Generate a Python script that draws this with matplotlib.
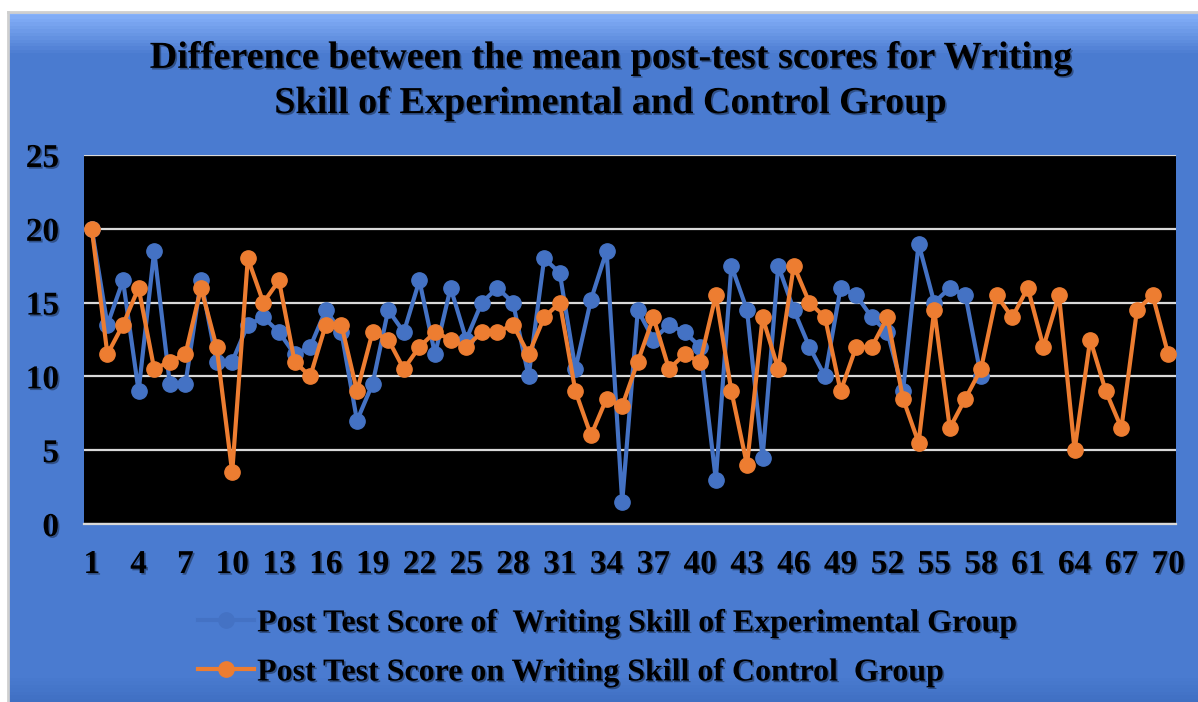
import numpy as np
import matplotlib
matplotlib.use("Agg")
import matplotlib.pyplot as plt
import matplotlib.patheffects as pe
from matplotlib.colors import to_rgb

# data
students = list(range(1, 71))
experimental = [20, 13.5, 16.5, 9, 18.5, 9.5, 9.5, 16.5, 11, 11,
                13.5, 14, 13, 11.5, 12, 14.5, 13, 7, 9.5, 14.5,
                13, 16.5, 11.5, 16, 12.5, 15, 16, 15, 10, 18,
                17, 10.5, 15.2, 18.5, 1.5, 14.5, 12.5, 13.5, 13, 12,
                3, 17.5, 14.5, 4.5, 17.5, 14.5, 12, 10, 16, 15.5,
                14, 13, 9, 19, 15, 16, 15.5, 10]
control = [20, 11.5, 13.5, 16, 10.5, 11, 11.5, 16, 12, 3.5,
           18, 15, 16.5, 11, 10, 13.5, 13.5, 9, 13, 12.5,
           10.5, 12, 13, 12.5, 12, 13, 13, 13.5, 11.5, 14,
           15, 9, 6, 8.5, 8, 11, 14, 10.5, 11.5, 11,
           15.5, 9, 4, 14, 10.5, 17.5, 15, 14, 9, 12,
           12, 14, 8.5, 5.5, 14.5, 6.5, 8.5, 10.5, 15.5, 14,
           16, 12, 15.5, 5, 12.5, 9, 6.5, 14.5, 15.5, 11.5]
xtick_labels = [str(i) for i in range(1, 71, 3)]
yticks = [0, 5, 10, 15, 20, 25]

title = ("Difference between the mean post-test scores for Writing\n"
         "Skill of Experimental and Control Group")
label_exp = "Post Test Score of  Writing Skill of Experimental Group"
label_ctl = "Post Test Score on Writing Skill of Control  Group"

BLUE = "#4472C4"
ORANGE = "#ED7D31"
BG = "#4A7BD0"

plt.rcParams['font.family'] = ['Liberation Serif', 'DejaVu Serif']
plt.rcParams['font.weight'] = 'bold'

W, H = 1198, 702
fig = plt.figure(figsize=(W / 100, H / 100), dpi=100)
fig.patch.set_facecolor("white")

# chart area background with a soft gradient like the original bevel
bg = fig.add_axes([8 / W, 0, 1 - 8 / W, 1 - 12 / H])
bg.set_axis_off()
rows = 200
grad = np.zeros((rows, 1, 3))
base = np.array(to_rgb(BG))
light = np.array(to_rgb("#86B1FA"))
dark = np.array(to_rgb("#3F6FC2"))
for r in range(rows):
    t = r / rows
    if t < 0.06:
        c = light + (base - light) * (t / 0.06)
    elif t > 0.96:
        c = base + (dark - base) * ((t - 0.96) / 0.04)
    else:
        c = base
    grad[r, 0] = c
bg.imshow(grad, aspect="auto", extent=[0, 1, 0, 1])
bg.set_xlim(0, 1)
bg.set_ylim(0, 1)
bg.plot([0, 1, 1], [1, 1, 1], color="#cfcfcf", lw=2, clip_on=False)
bg.plot([0, 0], [0, 1], color="#cfcfcf", lw=2, clip_on=False)

shadow = [pe.withSimplePatchShadow(offset=(1.2, -1.2), shadow_rgbFace="black", alpha=0.35)]

ax = fig.add_axes([84 / W, 1 - 524 / H, (1176 - 84) / W, (524 - 155) / H])
ax.set_facecolor("black")
ax.plot(students[:len(experimental)], experimental, color=BLUE, lw=3,
        marker="o", markersize=11, label=label_exp, zorder=3)
ax.plot(students, control, color=ORANGE, lw=3,
        marker="o", markersize=11, label=label_ctl, zorder=4)

ax.set_xlim(0.5, 70.5)
ax.set_ylim(0, 25)
ax.set_yticks(yticks)
ax.set_xticks(range(1, 71, 3))
ax.set_xticklabels(xtick_labels)
ax.grid(axis="y", color="#d9d9d9", lw=1.6, zorder=1)
ax.set_axisbelow(True)
for s in ["left", "right", "top"]:
    ax.spines[s].set_visible(False)
ax.spines["bottom"].set_color("#d9d9d9")
ax.spines["bottom"].set_linewidth(1.6)
ax.tick_params(length=0, labelsize=24, colors="black")
ax.tick_params(axis="y", pad=18)
ax.tick_params(axis="x", pad=18)
for lbl in ax.get_xticklabels() + ax.get_yticklabels():
    lbl.set_fontweight("bold")
    lbl.set_path_effects(shadow)

fig.text(611 / W, 1 - 81 / H, title, ha="center", va="center", fontsize=27.5,
         fontweight="bold", linespacing=1.38, path_effects=shadow)

leg = fig.legend(loc="upper left", bbox_to_anchor=(198 / W, 1 - 609 / H),
                 frameon=False, fontsize=23, handlelength=1.75, handletextpad=0.1,
                 labelspacing=0.62, borderaxespad=0, borderpad=0)
for t in leg.get_texts():
    t.set_fontweight("bold")
    t.set_path_effects(shadow)

fig.savefig("out.png", dpi=100, facecolor=fig.get_facecolor())
